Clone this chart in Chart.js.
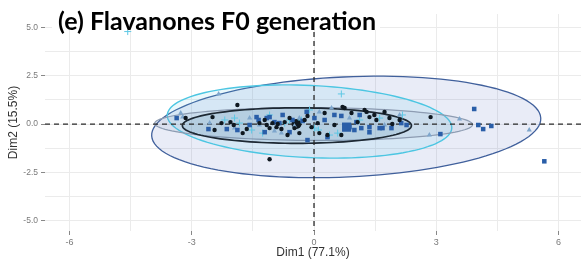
<!DOCTYPE html>
<html>
<head>
<meta charset="utf-8">
<script src="https://cdn.jsdelivr.net/npm/chart.js@4.4.1/dist/chart.umd.min.js"></script>
<style>
  html, body { margin: 0; padding: 0; background: #fff; }
  #wrap { width: 581px; height: 262px; position: relative; }
</style>
</head>
<body>
<div id="wrap"><canvas id="pca"></canvas></div>
<script>
// individuals (Dim1, Dim2)
const blackX = [-3.15,-2.49,-2.27,-2.05,-1.97,-2.44,-1.88,-1.65,-1.75,-1.34,-1.16,-1.21,-1.09,-1.02,-0.92,-0.89,-0.72,-0.65,-0.80,-0.36,-0.16,0.26,0.75,0.92,1.07,1.24,1.48,0.67,0.33,-0.06,0.09,0.50,0.70,1.29,1.36,1.53,0.13,2.86,-1.09,-0.60,-0.48,-0.23,2.10,1.85,1.92,1.73];
const blackY = [0.31,0.36,0.05,0.10,-0.05,-0.31,0.99,-0.26,-0.47,0.05,-0.05,0.21,-0.21,0.05,-0.16,0,0.10,-0.57,-0.26,-0.47,0.42,0.57,0.83,0.57,0.10,0.73,0.47,-0.57,-0.57,-0.16,0.05,-0.05,0.89,0.63,0.36,0.21,-0.47,0.36,-1.82,0.31,-0.21,0.21,0.21,0.31,0,0.63];

const squareX = [-3.37,-2.59,-2.14,-1.88,-1.41,-1.36,-1.16,-1.09,-0.97,-0.18,-0.28,0.50,0.67,0.87,1.04,1.16,1.36,1.61,1.68,1.90,2.14,2.27,1.36,0.99,-0.16,0.33,-0.77,-0.85,-0.53,1.12,3.10,3.93,4.03,4.15,4.35,5.65,0.01,0.26,-0.60,-1.21,-1.58];
const squareY = [0.31,-0.26,-0.26,-0.31,0.36,0.21,0.31,0.36,0.10,0.63,0.16,0.47,0.42,-0.16,0.10,-0.21,-0.16,-0.21,-0.21,-0.21,0.05,-0.05,-0.42,-0.31,-0.83,-0.68,0.47,0.05,0.21,0.47,-0.52,0.78,-0.05,-0.26,-0.10,-1.93,0.31,0.21,-0.42,-0.42,-0.05];

const triX = [-3.22,-3.27,-2.56,-1.95,-1.34,0.43,-0.97,-0.48,1.36,-0.80,2.10,2.83,3.57,5.28,-2.34,0.13,0.87,-0.36,-1.58,1.73];
const triY = [0.36,0.57,0.05,-0.21,-0.05,0.83,-0.36,-0.10,-0.47,-0.47,0.47,-0.57,0.26,-0.31,1.56,0.63,0.31,0.31,0.31,-0.05];

const plusX = [-4.57,-1.95,-1.83,-1.53,-1.26,0.67,0.01,0.11,-0.31,-0.60,-0.72,0.38,2.17,0.58,1.12,1.61,-1.09,-2.19,-0.11];
const plusY = [4.79,0.31,0.05,-0.31,-0.47,1.56,-0.21,-0.31,0.21,0.21,0.05,-0.57,0.47,-0.47,0.21,0.31,0.47,0.21,0.73];

// group means (drawn larger)
const meanBlack = [-0.43, 0.0];
const meanSquare = [0.80, -0.16];

// concentration ellipses: navy, cyan, steel, black
const ellCx = [0.79, -0.11, -0.01, -0.42];
const ellCy = [-0.15, 0.13, 0.0, -0.08];
const ellA = [4.8, 3.51, 3.9, 2.81];
const ellB = [2.58, 1.86, 0.85, 0.92];
const ellAngle = [7.2, -7.2, -0.5, 0.0];
const ellStroke = ['#40609c', '#4cc6e2', '#8d9cb2', '#1d2833'];
const ellFill = ['rgba(70,100,190,0.12)', 'rgba(90,200,232,0.13)', 'rgba(140,160,195,0.16)', 'rgba(60,120,160,0.14)'];
const ellWidth = [1.3, 1.4, 1.2, 1.7];

const xTicksShown = [-6, -3, 0, 3, 6];
const yTicksShown = [-5, -2.5, 0, 2.5, 5];

function pts(xs, ys) { return xs.map((x, i) => ({x: x, y: ys[i]})); }
function isMult(v, s) { return Math.abs(v / s - Math.round(v / s)) < 1e-6; }
function shown(list, v) { return list.some(t => Math.abs(t - v) < 1e-6); }

const bgPlugin = {
    id: 'extras',
    beforeDatasetsDraw(chart) {
        const ctx = chart.ctx, xs = chart.scales.x, ys = chart.scales.y, area = chart.chartArea;
        ctx.save();
        ctx.beginPath();
        ctx.rect(area.left, area.top, area.right - area.left, area.bottom - area.top);
        ctx.clip();
        for (let k = 0; k < ellCx.length; k++) {
            const t = ellAngle[k] * Math.PI / 180;
            ctx.beginPath();
            for (let i = 0; i <= 120; i++) {
                const u = i / 120 * 2 * Math.PI;
                const dx = ellA[k] * Math.cos(u), dy = ellB[k] * Math.sin(u);
                const px = xs.getPixelForValue(ellCx[k] + dx * Math.cos(t) - dy * Math.sin(t));
                const py = ys.getPixelForValue(ellCy[k] + dx * Math.sin(t) + dy * Math.cos(t));
                if (i === 0) ctx.moveTo(px, py); else ctx.lineTo(px, py);
            }
            ctx.closePath();
            ctx.fillStyle = ellFill[k];
            ctx.fill();
            ctx.strokeStyle = ellStroke[k];
            ctx.lineWidth = ellWidth[k];
            ctx.stroke();
        }
        // dashed reference lines at 0
        ctx.strokeStyle = '#2a2a2a';
        ctx.lineWidth = 1.3;
        ctx.setLineDash([5, 4]);
        const x0 = xs.getPixelForValue(0), y0 = ys.getPixelForValue(0);
        ctx.beginPath();
        ctx.moveTo(area.left, y0); ctx.lineTo(area.right, y0);
        ctx.moveTo(x0, area.top); ctx.lineTo(x0, area.bottom);
        ctx.stroke();
        ctx.restore();
    },
    afterDraw(chart) {
        const ctx = chart.ctx;
        const txt = '(e) Flavanones F0 generation';
        ctx.save();
        ctx.fillStyle = '#fff';
        ctx.fillRect(52, 0, 328, 30);
        ctx.font = 'bold 24px Lato';
        const w = ctx.measureText(txt).width;
        ctx.translate(58, 30);
        ctx.scale(318 / w, 1);
        ctx.fillStyle = '#000';
        ctx.textBaseline = 'alphabetic';
        ctx.fillText(txt, 0, 0);
        ctx.restore();
    }
};

const gridColor = function(c) {
    const v = c.tick ? c.tick.value : 0;
    return isMult(v, c.scale.axis === 'x' ? 1.5 : 1.25) ? '#ebebeb' : 'rgba(0,0,0,0)';
};

new Chart(document.getElementById('pca'), {
    type: 'scatter',
    data: {
        datasets: [
            { data: pts(blackX, blackY), pointStyle: 'circle', pointRadius: 2.2, backgroundColor: '#0f1820', borderColor: '#0f1820', borderWidth: 0 },
            { data: pts(squareX, squareY), pointStyle: 'rect', pointRadius: 3.2, backgroundColor: '#2a5ea8', borderColor: '#2a5ea8', borderWidth: 0 },
            { data: pts(triX, triY), pointStyle: 'triangle', pointRadius: 3, backgroundColor: '#7ea6cc', borderColor: '#7ea6cc', borderWidth: 0 },
            { data: pts(plusX, plusY), pointStyle: 'cross', pointRadius: 3.5, backgroundColor: '#5ec8e5', borderColor: '#5ec8e5', borderWidth: 1 },
            { data: [{x: meanBlack[0], y: meanBlack[1]}], pointStyle: 'circle', pointRadius: 5, backgroundColor: '#0f1820', borderWidth: 0 },
            { data: [{x: meanSquare[0], y: meanSquare[1]}], pointStyle: 'rect', pointRadius: 6.5, backgroundColor: '#2a5ea8', borderWidth: 0 }
        ]
    },
    options: {
        responsive: true,
        maintainAspectRatio: false,
        animation: false,
        layout: { autoPadding: false, padding: { top: 14, right: 0, left: 0, bottom: 0 } },
        plugins: { legend: { display: false }, tooltip: { enabled: false } },
        scales: {
            x: {
                min: -6.6, max: 6.55,
                ticks: {
                    stepSize: 1.5, autoSkip: false, maxRotation: 0, padding: 2, includeBounds: false,
                    color: '#7a7a7a', font: { family: 'Liberation Sans', size: 9 },
                    callback: function(v) { return shown(xTicksShown, v) ? String(Math.round(v)) : ''; }
                },
                grid: {
                    color: gridColor, lineWidth: 1, drawTicks: true, tickLength: 4,
                    tickColor: function(c) { return c.tick && shown(xTicksShown, c.tick.value) ? '#888' : 'rgba(0,0,0,0)'; }
                },
                border: { display: false },
                title: { display: true, text: 'Dim1 (77.1%)', color: '#333', font: { family: 'Liberation Sans', size: 12 }, padding: { top: 2, bottom: 2 } },
                afterFit: function(s) { s.height = 31; s.paddingLeft = 0; s.paddingRight = 0; }
            },
            y: {
                min: -5.54, max: 5.7,
                ticks: {
                    stepSize: 1.25, autoSkip: false, padding: 3, includeBounds: false,
                    color: '#7a7a7a', font: { family: 'Liberation Sans', size: 8.5 },
                    callback: function(v) { return shown(yTicksShown, v) ? v.toFixed(1) : ''; }
                },
                grid: {
                    color: gridColor, lineWidth: 1, drawTicks: true, tickLength: 4,
                    tickColor: function(c) { return c.tick && shown(yTicksShown, c.tick.value) ? '#888' : 'rgba(0,0,0,0)'; }
                },
                border: { display: false },
                title: { display: true, text: 'Dim2 (15.5%)', color: '#333', font: { family: 'Liberation Sans', size: 12 }, padding: { top: 6, bottom: 0 } },
                afterFit: function(s) { s.width = 45; s.paddingTop = 0; s.paddingBottom = 0; }
            }
        }
    },
    plugins: [bgPlugin]
});
</script>
</body>
</html>
